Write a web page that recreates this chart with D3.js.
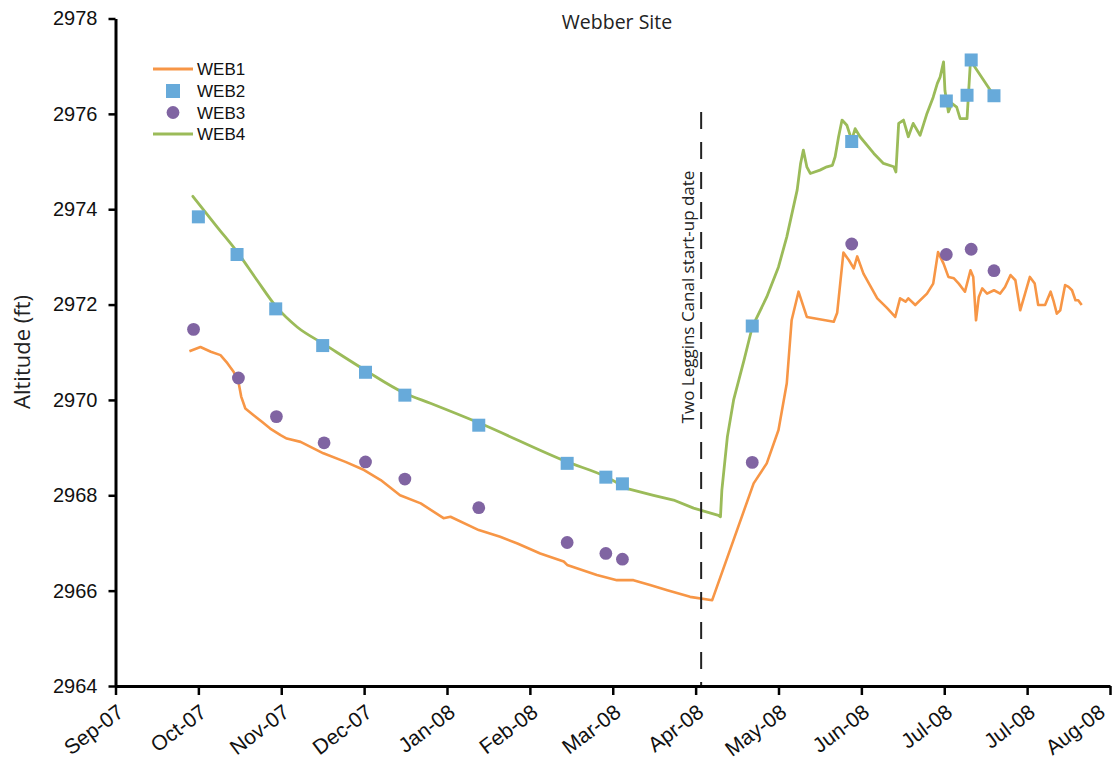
<!DOCTYPE html>
<html>
<head>
<meta charset="utf-8">
<title>Webber Site</title>
<script src="https://cdn.jsdelivr.net/npm/d3@7"></script>
<style>
  html, body { margin: 0; padding: 0; background: #ffffff; }
  svg { display: block; }
</style>
</head>
<body>
<svg id="chart" width="1112" height="761"></svg>
<script>
// ---- Axis ticks (30-day spacing starting 5 Sep 2007) ----
const tickDates = ["2007-09-05", "2007-10-05", "2007-11-04", "2007-12-04", "2008-01-03", "2008-02-02",
                   "2008-03-03", "2008-04-02", "2008-05-02", "2008-06-01", "2008-07-01", "2008-07-31", "2008-08-30"];
const tickLabels = ["Sep-07", "Oct-07", "Nov-07", "Dec-07", "Jan-08", "Feb-08",
                    "Mar-08", "Apr-08", "May-08", "Jun-08", "Jul-08", "Jul-08", "Aug-08"];
const altitudeTicks = [2964, 2966, 2968, 2970, 2972, 2974, 2976, 2978];

// ---- Event marker ----
const canalStartDate = "2008-04-04 00";
const canalLabel = "Two Leggins Canal start-up date";

// ---- WEB1: continuous record (ft) ----
const web1Dates = [
  "2007-10-01 18", "2007-10-05 18", "2007-10-09 12", "2007-10-13 00", "2007-10-15 12", "2007-10-17 18",
  "2007-10-19 12", "2007-10-20 12", "2007-10-22 00", "2007-10-25 00", "2007-10-28 00", "2007-10-31 00",
  "2007-11-03 18", "2007-11-06 00", "2007-11-11 00", "2007-11-19 06", "2007-11-27 06", "2007-12-04 00",
  "2007-12-10 00", "2007-12-17 00", "2007-12-24 12", "2008-01-01 18", "2008-01-04 06", "2008-01-14 12",
  "2008-01-22 06", "2008-01-28 12", "2008-02-05 18", "2008-02-14 06", "2008-02-15 12", "2008-02-26 06",
  "2008-03-04 12", "2008-03-10 12", "2008-03-16 12", "2008-03-22 18", "2008-03-31 00", "2008-04-08 00",
  "2008-04-23 00", "2008-04-27 18", "2008-05-02 00", "2008-05-05 00", "2008-05-06 18", "2008-05-09 06",
  "2008-05-12 06", "2008-05-22 00", "2008-05-23 06", "2008-05-25 12", "2008-05-27 12", "2008-05-29 06",
  "2008-05-30 12", "2008-06-01 18", "2008-06-06 18", "2008-06-10 06", "2008-06-13 06", "2008-06-15 00",
  "2008-06-17 00", "2008-06-18 00", "2008-06-20 12", "2008-06-24 18", "2008-06-27 00", "2008-06-28 18",
  "2008-06-30 18", "2008-07-02 12", "2008-07-04 12", "2008-07-06 06", "2008-07-08 12", "2008-07-10 12",
  "2008-07-11 12", "2008-07-12 12", "2008-07-13 12", "2008-07-14 18", "2008-07-16 12", "2008-07-19 00",
  "2008-07-21 06", "2008-07-23 00", "2008-07-25 00", "2008-07-26 18", "2008-07-28 12", "2008-07-30 06",
  "2008-08-01 00", "2008-08-02 18", "2008-08-04 00", "2008-08-06 12", "2008-08-08 12", "2008-08-09 12",
  "2008-08-10 18", "2008-08-12 00", "2008-08-13 18", "2008-08-15 00", "2008-08-16 06", "2008-08-17 12",
  "2008-08-18 12", "2008-08-19 18"
];
const web1Altitude = [
  2971.02, 2971.11, 2971.01, 2970.94, 2970.77, 2970.59,
  2970.38, 2970.07, 2969.82, 2969.68, 2969.54, 2969.40,
  2969.26, 2969.19, 2969.12, 2968.88, 2968.70, 2968.53,
  2968.32, 2968.00, 2967.83, 2967.52, 2967.55, 2967.27,
  2967.13, 2966.99, 2966.78, 2966.61, 2966.54, 2966.33,
  2966.22, 2966.22, 2966.12, 2966.01, 2965.87, 2965.80,
  2968.25, 2968.67, 2969.37, 2970.35, 2971.67, 2972.27,
  2971.74, 2971.64, 2971.83, 2973.09, 2972.93, 2972.76,
  2973.01, 2972.65, 2972.13, 2971.93, 2971.74, 2972.13,
  2972.06, 2972.13, 2971.99, 2972.23, 2972.44, 2973.10,
  2972.86, 2972.58, 2972.55, 2972.44, 2972.27, 2972.72,
  2972.58, 2971.67, 2972.16, 2972.34, 2972.23, 2972.30,
  2972.23, 2972.37, 2972.62, 2972.51, 2971.88, 2972.23,
  2972.58, 2972.44, 2971.99, 2971.99, 2972.27, 2972.09,
  2971.81, 2971.88, 2972.41, 2972.37, 2972.30, 2972.09,
  2972.09, 2971.99
];

// ---- WEB2: manual measurements (ft) ----
const web2Dates = [
  "2007-10-05 00", "2007-10-19 00", "2007-11-02 00", "2007-11-19 00", "2007-12-04 12", "2007-12-18 18",
  "2008-01-14 12", "2008-02-15 12", "2008-02-29 12", "2008-03-06 12", "2008-04-22 12", "2008-05-28 12",
  "2008-07-01 18", "2008-07-09 06", "2008-07-10 18", "2008-07-19 00"
];
const web2Altitude = [
  2973.84, 2973.05, 2971.91, 2971.14, 2970.58, 2970.10,
  2969.47, 2968.67, 2968.38, 2968.24, 2971.55, 2975.42,
  2976.27, 2976.39, 2977.13, 2976.38
];

// ---- WEB3: manual measurements (ft) ----
const web3Dates = [
  "2007-10-03 06", "2007-10-19 12", "2007-11-02 06", "2007-11-19 12", "2007-12-04 12", "2007-12-18 18",
  "2008-01-14 12", "2008-02-15 12", "2008-02-29 12", "2008-03-06 12", "2008-04-22 12", "2008-05-28 12",
  "2008-07-01 18", "2008-07-10 18", "2008-07-19 00"
];
const web3Altitude = [
  2971.48, 2970.46, 2969.65, 2969.10, 2968.70, 2968.34,
  2967.74, 2967.01, 2966.78, 2966.66, 2968.69, 2973.27,
  2973.05, 2973.16, 2972.71
];

// ---- WEB4: continuous record (ft) ----
const web4Dates = [
  "2007-10-03 00", "2007-10-11 18", "2007-10-19 12", "2007-10-26 06", "2007-11-02 06", "2007-11-09 18",
  "2007-11-19 12", "2007-12-04 12", "2007-12-18 18", "2007-12-28 00", "2008-01-14 12", "2008-02-15 12",
  "2008-02-29 12", "2008-03-08 06", "2008-03-17 18", "2008-03-25 00", "2008-04-01 06", "2008-04-10 06",
  "2008-04-11 00", "2008-04-11 12", "2008-04-13 12", "2008-04-15 18", "2008-04-19 12", "2008-04-22 12",
  "2008-04-27 18", "2008-05-02 00", "2008-05-05 00", "2008-05-08 18", "2008-05-10 00", "2008-05-11 00",
  "2008-05-12 06", "2008-05-13 12", "2008-05-17 00", "2008-05-19 12", "2008-05-21 12", "2008-05-22 12",
  "2008-05-23 18", "2008-05-25 00", "2008-05-26 18", "2008-05-28 12", "2008-05-29 18", "2008-05-31 12",
  "2008-06-05 12", "2008-06-09 00", "2008-06-12 18", "2008-06-13 12", "2008-06-14 12", "2008-06-16 06",
  "2008-06-18 00", "2008-06-19 18", "2008-06-22 06", "2008-06-24 18", "2008-06-27 00", "2008-06-28 12",
  "2008-06-29 12", "2008-06-30 18", "2008-07-01 06", "2008-07-02 12", "2008-07-03 18", "2008-07-05 12",
  "2008-07-06 18", "2008-07-09 06", "2008-07-09 18", "2008-07-10 12", "2008-07-19 00"
];
const web4Altitude = [
  2974.27, 2973.63, 2973.07, 2972.51, 2971.95, 2971.53,
  2971.17, 2970.62, 2970.14, 2969.93, 2969.52, 2968.70,
  2968.39, 2968.14, 2968.00, 2967.90, 2967.73, 2967.58,
  2967.55, 2968.11, 2969.23, 2970.00, 2970.83, 2971.53,
  2972.16, 2972.79, 2973.42, 2974.40, 2974.96, 2975.24,
  2974.89, 2974.75, 2974.82, 2974.89, 2974.92, 2975.10,
  2975.52, 2975.87, 2975.76, 2975.45, 2975.69, 2975.52,
  2975.17, 2974.96, 2974.89, 2974.78, 2975.80, 2975.87,
  2975.52, 2975.80, 2975.55, 2976.01, 2976.35, 2976.64,
  2976.77, 2977.09, 2976.49, 2976.04, 2976.22, 2976.14,
  2975.90, 2975.90, 2976.39, 2977.12, 2976.38
];
// The winter recession is a smooth trend; later readings keep their spikes.
const web4SmoothUntil = "2008-03-08 06";

const seriesNames = ["WEB1", "WEB2", "WEB3", "WEB4"];
const colors = { WEB1: "#F79646", WEB2: "#67AADA", WEB3: "#8064A2", WEB4: "#9BBB59" };

// ---- Helpers ----
const parseHour = d3.timeParse("%Y-%m-%d %H");
const parseDay = d3.timeParse("%Y-%m-%d");
const parseDate = s => (s.length > 10 ? parseHour(s) : parseDay(s));
const zip = (dates, vals) => dates.map((d, i) => ({ date: parseDate(d), value: vals[i] }));

const web1 = zip(web1Dates, web1Altitude);
const web2 = zip(web2Dates, web2Altitude);
const web3 = zip(web3Dates, web3Altitude);
const web4 = zip(web4Dates, web4Altitude);
const splitTime = parseDate(web4SmoothUntil);
const web4Smooth = web4.filter(d => d.date <= splitTime);
const web4Rest = web4.filter(d => d.date >= splitTime);

// ---- Layout ----
const width = 1112;
const svg = d3.select("#chart");
const plot = { left: 115.5, right: 1110, top: 18.5, bottom: 686 };

const x = d3.scaleTime()
  .domain([parseDate(tickDates[0]), parseDate(tickDates[tickDates.length - 1])])
  .range([plot.left, plot.right]);
const y = d3.scaleLinear()
  .domain([2964, 2978])
  .range([plot.bottom, plot.top]);

// ---- Series ----
const linear = d3.line().x(d => x(d.date)).y(d => y(d.value));
const smooth = d3.line().x(d => x(d.date)).y(d => y(d.value)).curve(d3.curveMonotoneX);

svg.append("path")
  .datum(web1)
  .attr("fill", "none")
  .attr("stroke", colors.WEB1)
  .attr("stroke-width", 2.6)
  .attr("stroke-linejoin", "round")
  .attr("d", linear);

svg.append("path")
  .attr("fill", "none")
  .attr("stroke", colors.WEB4)
  .attr("stroke-width", 2.8)
  .attr("stroke-linejoin", "round")
  .attr("stroke-linecap", "round")
  .attr("d", smooth(web4Smooth) + linear(web4Rest).replace(/^M/, "L"));

const sq = 13;
svg.append("g").selectAll("rect")
  .data(web2)
  .join("rect")
  .attr("x", d => x(d.date) - sq / 2)
  .attr("y", d => y(d.value) - sq / 2)
  .attr("width", sq)
  .attr("height", sq)
  .attr("fill", colors.WEB2);

svg.append("g").selectAll("circle")
  .data(web3)
  .join("circle")
  .attr("cx", d => x(d.date))
  .attr("cy", d => y(d.value))
  .attr("r", 6.4)
  .attr("fill", colors.WEB3);

// ---- Canal start-up marker ----
const cx = x(parseDate(canalStartDate));
svg.append("line")
  .attr("x1", cx).attr("x2", cx)
  .attr("y1", 112).attr("y2", plot.bottom)
  .attr("stroke", "#222")
  .attr("stroke-width", 2)
  .attr("stroke-dasharray", "17,13");

svg.append("text")
  .attr("transform", `translate(${cx - 7},297) rotate(-90)`)
  .attr("text-anchor", "middle")
  .attr("font-family", "'Open Sans', 'Noto Sans', sans-serif")
  .attr("font-size", 17)
  .attr("fill", "#222")
  .text(canalLabel);

// ---- Axes ----
const yAxis = svg.append("g")
  .attr("transform", `translate(${plot.left},0)`)
  .call(d3.axisLeft(y).tickValues(altitudeTicks).tickFormat(d3.format("d")).tickSize(7).tickPadding(11).tickSizeOuter(0));
yAxis.select(".domain").attr("stroke", "#000").attr("stroke-width", 3);
yAxis.selectAll(".tick line").attr("stroke", "#000").attr("stroke-width", 2.5);
yAxis.selectAll(".tick text")
  .attr("font-family", "'Liberation Sans', Arial, sans-serif")
  .attr("font-size", 20)
  .attr("fill", "#111");

const xAxis = svg.append("g")
  .attr("transform", `translate(0,${plot.bottom})`)
  .call(d3.axisBottom(x).tickValues(tickDates.map(parseDate)).tickFormat((d, i) => tickLabels[i]).tickSize(9).tickSizeOuter(0));
xAxis.select(".domain").attr("stroke", "#000").attr("stroke-width", 3);
xAxis.selectAll(".tick line").attr("stroke", "#000").attr("stroke-width", 2.5);
xAxis.selectAll(".tick text")
  .attr("font-family", "'Liberation Sans', Arial, sans-serif")
  .attr("font-size", 21)
  .attr("fill", "#111")
  .attr("text-anchor", "end")
  .attr("x", 0).attr("y", 0).attr("dy", 0)
  .attr("transform", function (d) {
    // keep the last label inside the page edge
    const dx = Math.min(9, width - 6 - x(d));
    return `translate(${dx},29) rotate(-37)`;
  });

// ---- Titles ----
svg.append("text")
  .attr("x", 617).attr("y", 29)
  .attr("text-anchor", "middle")
  .attr("font-family", "'Open Sans', 'Noto Sans', sans-serif")
  .attr("font-size", 19.5)
  .attr("fill", "#222")
  .text("Webber Site");

svg.append("text")
  .attr("transform", "translate(30,352) rotate(-90)")
  .attr("text-anchor", "middle")
  .attr("font-family", "'Open Sans', 'Noto Sans', sans-serif")
  .attr("font-size", 22)
  .attr("fill", "#222")
  .text("Altitude (ft)");

// ---- Legend ----
const legend = svg.append("g").attr("font-family", "'Liberation Sans', Arial, sans-serif").attr("font-size", 17).attr("fill", "#111");
const legendRows = [69, 91, 112.5, 134];
seriesNames.forEach((name, i) => {
  const ly = legendRows[i];
  const g = legend.append("g");
  if (name === "WEB1" || name === "WEB4") {
    g.append("line").attr("x1", 153).attr("x2", 193).attr("y1", ly).attr("y2", ly)
      .attr("stroke", colors[name]).attr("stroke-width", 2.8);
  } else if (name === "WEB2") {
    g.append("rect").attr("x", 166).attr("y", ly - 7).attr("width", 14).attr("height", 14).attr("fill", colors[name]);
  } else {
    g.append("circle").attr("cx", 173).attr("cy", ly).attr("r", 6.4).attr("fill", colors[name]);
  }
  g.append("text").attr("x", 197).attr("y", ly).attr("dy", "0.36em").text(name);
});
</script>
</body>
</html>
